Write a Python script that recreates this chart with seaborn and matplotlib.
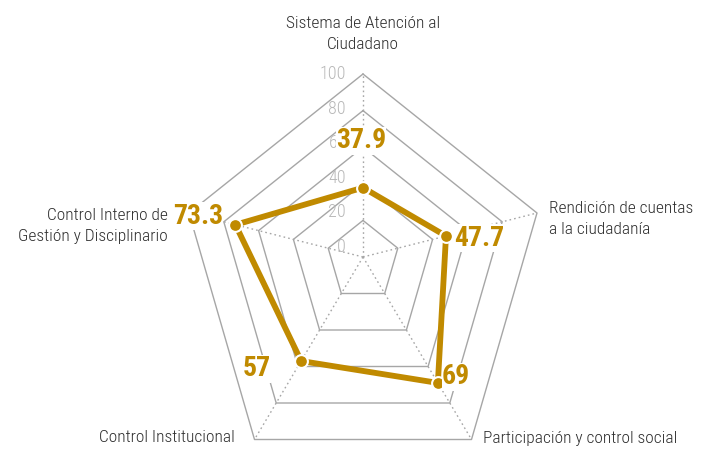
import numpy as np
import pandas as pd
import matplotlib
matplotlib.use("Agg")
import matplotlib.pyplot as plt
from matplotlib import font_manager as fm
import seaborn as sns

# ---- data ----
categories = [
    "Sistema de Atención al\nCiudadano",
    "Rendición de cuentas\na la ciudadanía",
    "Participación y control social",
    "Control Institucional",
    "Control Interno de\nGestión y Disciplinario",
]
values = [37.9, 47.7, 69, 57, 73.3]
value_labels = ["37.9", "47.7", "69", "57", "73.3"]
ring_levels = [20, 40, 60, 80, 100]
tick_labels = ["0", "20", "40", "60", "80", "100"]

# ---- style ----
sns.set_theme(style="white")
names = {f.name for f in fm.fontManager.ttflist}
family = "DejaVu Sans"
stretch = "condensed"
for cand in ["Roboto Condensed", "Liberation Sans Narrow", "Open Sans Condensed"]:
    if cand in names:
        family = cand
        stretch = "normal"
        break
plt.rcParams["font.family"] = [family, "DejaVu Sans"]

GOLD = "#C08A00"
GRID = "#a6a6a6"
TEXT = "#2e2e2e"
TICK = "#b8b8b8"

fig = plt.figure(figsize=(7.03, 4.5), dpi=100)
ax = fig.add_axes([0, 0, 1, 1])

# layout: centre and axis direction vectors (pixels per 100 units)
cx, cy = 363, 257
dirs = np.array([[0, -183], [174, -44], [108.5, 182.5], [-108.5, 182.5], [-174, -44]]) / 100.0

# rings
for lv in ring_levels:
    pts = np.vstack([dirs * lv, dirs[:1] * lv]) + [cx, cy]
    ax.plot(pts[:, 0], pts[:, 1], color=GRID, lw=1.0, zorder=1)
# spokes
for d in dirs:
    ax.plot([cx, cx + d[0] * 100], [cy, cy + d[1] * 100], color=GRID, lw=1.0,
            ls=(0, (1.2, 2.2)), zorder=1)

# tick labels along top axis
for t in tick_labels:
    v = float(t)
    ax.text(346, 247 - 1.73 * v, t, ha="right", va="center", fontsize=13,
            color=TICK, fontweight="light", fontstretch=stretch, zorder=2)

# data polygon
pts = dirs * np.array(values)[:, None] + [cx, cy]
closed = np.vstack([pts, pts[:1]])
df_line = pd.DataFrame({"x": closed[:, 0], "y": closed[:, 1]})
sns.lineplot(data=df_line, x="x", y="y", sort=False, color=GOLD, lw=4.2, ax=ax, zorder=3,
             estimator=None)
df_pts = pd.DataFrame({"x": pts[:, 0], "y": pts[:, 1], "cat": categories})
sns.scatterplot(data=df_pts, x="x", y="y", color=GOLD, s=85, edgecolor="white",
                linewidth=1.5, ax=ax, zorder=4, legend=False)
ax.set_xlim(0, 703)
ax.set_ylim(450, 0)
ax.axis("off")

# value labels
label_pos = [(361, 141), (479, 238), (456, 377), (257, 369), (198, 216)]
for (lx, ly), lab in zip(label_pos, value_labels):
    ax.text(lx, ly, lab, ha="center", va="center", fontsize=20, fontweight="bold",
            color=GOLD, fontstretch=stretch, zorder=5,
            bbox=dict(facecolor="white", edgecolor="none", pad=0.3))

# category labels
cat_pos = [(363, 34, "center"), (549, 219, "left"), (483, 438, "left"),
           (235, 438, "right"), (168, 226, "right")]
for (tx, ty, ha), c in zip(cat_pos, categories):
    ax.text(tx, ty, c, ha=ha, va="center", fontsize=12.5, color=TEXT,
            fontweight="light", fontstretch=stretch, linespacing=1.55,
            multialignment=ha)

fig.savefig("out.png", dpi=100)
